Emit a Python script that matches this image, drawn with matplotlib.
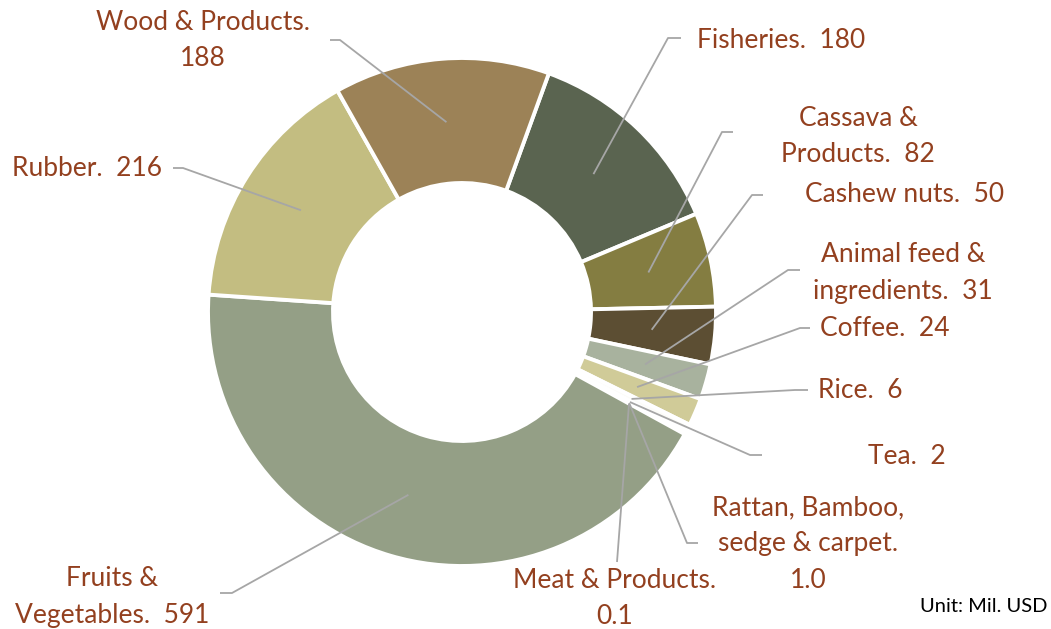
import numpy as np
import matplotlib.pyplot as plt

plt.rcParams['font.family'] = ['Lato', 'DejaVu Sans']

labels = ["Fisheries.  180", "Cassava &\nProducts.  82", "Cashew nuts.  50",
          "Animal feed &\ningredients.  31", "Coffee.  24", "Rice.  6", "Tea.  2",
          "Rattan, Bamboo,\nsedge & carpet.\n1.0", "Meat & Products.\n0.1",
          "Fruits &\nVegetables.  591", "Rubber.  216", "Wood & Products.\n188"]
values = [180, 82, 50, 31, 24, 6, 2, 1.0, 0.1, 591, 216, 188]
colors = ['#5a6450', '#847d41', '#5c4e33', '#a8b29e', '#d0cb98', '#fcfcf8',
          '#b8955c', '#c8c090', '#8a8a6a', '#949f86', '#c3bd81', '#9c8257']

H = 629
fig = plt.figure(figsize=(10.51, 6.29), dpi=100)
ax = fig.add_axes([0, 0, 1, 1])

R = 254
cx, cy = 462, H - 312
wedges, _ = ax.pie(values, colors=colors, startangle=70, counterclock=False,
                   radius=R, center=(cx, cy), frame=True,
                   wedgeprops=dict(width=125, edgecolor='white', linewidth=2.8))
ax.set_xlim(0, 1051)
ax.set_ylim(0, H)
ax.set_aspect('equal')
ax.axis('off')

txt_col = '#93401f'
line_col = '#a6a6a6'

# label placement: (text x, text y, ha, elbow x, elbow y, short-end x), pixels from top-left
place = [
    (697, 40, 'left', 668, 38, 681),
    (858, 136, 'center', 722, 132, 733),
    (805, 195, 'left', 752, 195, 763),
    (903, 273, 'center', 788, 270, 800),
    (820, 328, 'left', 800, 328, 810),
    (818, 390, 'left', 795, 390, 808),
    (868, 456, 'left', 750, 455, 762),
    (808, 544, 'center', 687, 543, 698),
    (615, 599, 'center', 617, 562, 617),
    (112, 597, 'center', 232, 593, 220),
    (162, 168, 'right', 183, 168, 173),
    (203, 41, 'center', 340, 40, 330),
]

for w, lab, (tx, ty, ha, ex, ey, sx) in zip(wedges, labels, place):
    ang = np.deg2rad((w.theta1 + w.theta2) / 2)
    px = cx + 0.75 * R * np.cos(ang)
    py = cy + 0.75 * R * np.sin(ang)
    ax.plot([px, ex, sx], [py, H - ey, H - ey], color=line_col, lw=1.3,
            solid_capstyle='butt', zorder=3)
    ax.text(tx, H - ty, lab, ha=ha, va='center', fontsize=19, color=txt_col,
            multialignment='center', linespacing=1.55)

ax.text(1047, H - 607, "Unit: Mil. USD", ha='right', va='center', fontsize=14.5,
        color='black')

fig.savefig('out.png', dpi=100)
